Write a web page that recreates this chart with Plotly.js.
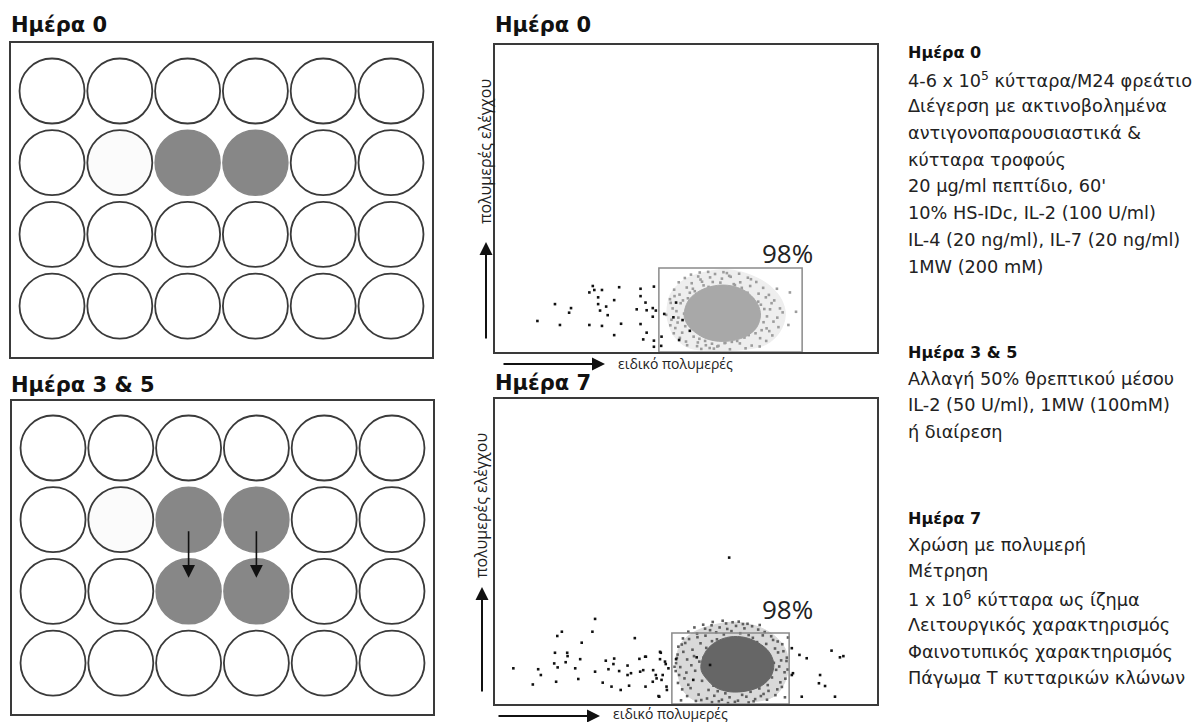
<!DOCTYPE html>
<html><head><meta charset="utf-8">
<script src="https://cdn.plot.ly/plotly-3.0.1.min.js"></script>
<style>html,body{margin:0;padding:0;background:#fff}#chart{width:1200px;height:722px}</style>
</head><body><div id="chart"></div>
<script>
const W = 1200, H = 722;

// ---- Well plates (24-well, 4 rows x 6 columns) ----
const plateRows = [1, 2, 3, 4];
const plateCols = [1, 2, 3, 4, 5, 6];
const day0Seeded = [[2, 3], [2, 4]];
const day0Faint = [[2, 2]];
const day35Seeded = [[2, 3], [2, 4], [3, 3], [3, 4]];
const day35Faint = [[2, 2]];
const splitFrom = [[2, 3], [2, 4]];
const splitTo = [[3, 3], [3, 4]];
const plateTitles = ['Ημέρα 0', 'Ημέρα 3 & 5'];

// ---- Flow cytometry (x: ειδικό πολυμερές, y: πολυμερές ελέγχου), axis units 0-100 ----
const flowTitles = ['Ημέρα 0', 'Ημέρα 7'];
const xLabel = 'ειδικό πολυμερές';
const yLabel = 'πολυμερές ελέγχου';
const gatePct = ['98%', '98%'];
const day0Gate = [42.9, 80.4, 27.4];
const day7Gate = [46.3, 77.0, 23.3];
const day0Halo = [[45,13],[46,19],[49.5,23.5],[55,26],[61,26.8],[67,25],[72,21.5],[75,17],[76,12],[74.5,6.5],[71,2.5],[65,0.8],[57,0.5],[50.5,1.5],[47,5],[45.5,9],[45,13]];
const day0Core = [[49.5,12],[50.5,16.5],[53,19.5],[56.5,21.3],[60,21.8],[63.5,21],[66.5,19],[68.8,15.5],[69.5,12],[68.5,8],[66,5.3],[62.5,3.8],[58.5,3.5],[55,4.5],[52,6.8],[50.2,9.3],[49.5,12]];
const day7Halo = [[47.5,14],[48.5,19.5],[52,23.5],[57.5,26],[63,26.8],[68.5,25.5],[73,22.5],[76,18],[76.8,12.5],[75.8,7],[73,2.5],[67,0.6],[60,0.4],[53,0.8],[49.5,4],[48,9],[47.5,14]];
const day7Core = [[54,13.5],[55.3,17.5],[58,20.5],[61.5,22],[65.5,21.8],[69,20],[71.8,17],[73,13],[72.2,9],[69.8,6],[66,4.3],[61.5,4],[57.8,5.4],[55.2,8.5],[54,11],[54,13.5]];
const day0Speckles = [[46.5,14.2],[47.8,9.6],[48.3,18.7],[49.0,6.3],[49.5,12.5],[50.2,21.0],[50.0,3.4],[49.2,16.8],[48.0,11.2],[47.2,7.8],[51.5,22.4],[52.3,19.8],[53.1,3.1],[53.8,23.6],[54.6,21.7],[55.2,2.2],[56.3,24.3],[57.0,22.8],[58.2,1.8],[59.4,23.9],[60.1,2.9],[61.3,24.8],[62.5,22.1],[63.4,3.6],[64.6,20.9],[65.3,4.7],[66.1,19.3],[67.5,17.2],[68.2,6.1],[68.9,12.8],[69.6,15.4],[70.3,9.7],[71.2,11.6],[66.8,21.5],[67.9,8.3],[69.0,19.0],[70.5,14.0],[52.0,5.0],[53.5,4.3],[55.0,3.6],[56.8,2.7],[58.5,2.0],[60.3,3.0],[62.0,3.3],[63.8,5.2],[65.0,6.7],[50.5,17.5],[51.8,20.6],[54.2,22.9],[57.6,25.4],[61.7,24.5],[64.2,22.7],[66.4,5.5],[68.5,10.8],[49.8,8.4],[48.6,15.9],[47.5,13.3],[46.2,10.5],[52.7,18.1],[55.9,21.2],[59.0,22.6],[62.8,21.8],[65.8,18.4],[69.8,7.1],[58.0,5.8],[60.9,4.1],[63.1,6.4],[56.2,1.3],[54.0,1.0],[50.9,13.7],[68.9,16.4],[72.4,15.9],[74.6,14.2],[77.2,19.4],[76.8,8.8],[78.8,13.1],[72.9,9.9],[69.4,4.5],[64.1,2.8],[71.1,7.7],
  [45.8,17.2],[46.9,20.3],[48.1,22.7],[49.7,24.1],[51.3,25.2],[53.6,25.9],[55.8,26.1],[59.8,26.0],[63.9,25.5],[66.2,24.2],[68.4,22.8],[70.2,20.9],[71.7,18.6],[73.1,16.8],[73.9,11.2],[74.2,8.1],[72.6,5.4],[71.0,3.6],[67.2,2.1],[65.6,1.2],[61.5,0.9],[57.3,1.1],[52.9,1.9],[50.3,2.2],[48.4,4.6],[46.8,6.1],[45.9,8.7],[51.0,19.3],[70.9,17.8],[72.0,13.9],[47.0,18.2],[46.0,16.0],[71.8,6.8],[53.2,24.6],[60.7,25.7],[67.0,23.7],[44.8,12.1],[75.3,12.9],[73.8,20.6],[69.3,1.8]];
const day7Speckles = [[47.8,16.2],[48.5,12.1],[48.9,19.5],[49.6,8.4],[50.3,14.6],[50.8,21.3],[51.2,5.2],[51.7,17.8],[52.4,10.9],[52.9,23.1],[53.3,3.1],[53.8,19.9],[54.2,7.6],[54.6,15.2],[55.1,22.4],[55.5,1.8],[55.9,4.6],[56.3,24.2],[56.8,20.6],[57.4,2.7],[57.9,23.5],[58.3,4.2],[58.8,25.1],[59.4,1.4],[59.9,22.8],[60.3,3.5],[60.8,24.6],[61.4,2.2],[61.9,23.9],[62.5,4.4],[63.1,25.6],[63.6,1.1],[64.2,23.2],[64.7,3.0],[65.3,24.8],[65.8,2.4],[66.4,22.6],[66.9,4.0],[67.5,21.7],[68.1,1.6],[68.6,20.3],[69.2,5.1],[69.7,18.9],[70.3,3.3],[70.8,17.4],[71.4,6.2],[71.9,15.8],[72.5,8.7],[73.0,13.5],[73.6,11.2],[74.1,16.9],[74.7,7.1],[75.2,19.6],[75.8,10.4],[76.3,14.1],[72.8,21.0],[73.9,4.8],[70.1,22.5],[54.9,11.8],[53.5,13.9],[52.1,15.7],[51.4,12.7],[50.1,10.3],[49.3,17.1],[48.2,9.5],[47.4,13.4],[56.1,8.2],[55.3,18.4],[57.2,6.0],[58.1,21.2],[72.2,10.0],[73.3,18.2],[74.4,12.3],[71.6,4.3],[69.6,2.6],[67.7,0.9],[62.8,0.7],[58.6,0.9],[54.0,1.3],[64.9,26.2],[60.5,26.4],[56.7,25.8],[67.3,25.5],[62.2,26.8],
  [48.0,18.8],[49.2,21.5],[50.6,23.7],[52.2,25.1],[54.5,26.0],[57.0,26.9],[59.6,27.3],[63.8,27.0],[66.1,26.3],[68.9,24.4],[70.6,23.6],[72.3,22.2],[74.0,20.5],[75.5,17.3],[76.4,15.2],[76.6,11.3],[76.0,8.3],[75.1,5.6],[73.4,2.9],[71.2,1.4],[66.4,0.5],[61.0,0.3],[56.8,0.6],[52.6,1.0],[50.3,2.6],[49.0,4.8],[47.9,6.9],[47.3,10.8],[47.0,12.2],[47.6,15.1],[48.7,1.2],[75.9,2.2],[76.7,21.8],[55.0,24.7],[69.3,25.9],[71.0,19.7],[49.8,20.0],[53.0,21.9],[74.9,14.3],[50.6,6.3]];
const day0Outliers = [[11.1,10.1],[15.7,15.6],[17.0,8.8],[19.4,12.8],[19.9,14.3],[24.7,19.4],[25.6,21.5],[26.0,20.2],[28.0,20.2],[27.0,17.8],[27.0,15.6],[27.5,13.5],[29.1,14.8],[29.5,12.0],[24.7,8.8],[28.0,8.5],[31.2,16.9],[32.5,21.1],[31.2,5.5],[33.0,9.2],[37.1,13.9],[38.1,20.6],[38.1,18.2],[38.1,9.1],[39.4,16.1],[39.7,13.6],[39.7,6.3],[38.8,4.1],[41.3,14.3],[41.6,21.3],[41.6,3.7],[41.6,1.7],[41.3,11.5],[42.1,13.5],[43.6,5.0],[43.5,2.0],[44.3,12.4],[47.4,16.1],[49.1,10.4],[51.0,6.9],[48.2,3.9],[46.7,11.3]];
const day7Outliers = [[4.8,11.7],[9.9,6.4],[11.3,11.4],[12.0,9.5],[16.0,7.3],[15.7,16.8],[16.3,22.3],[17.5,23.7],[15.5,13.3],[16.4,12.0],[18.9,16.8],[19.0,15.7],[18.5,13.7],[21.0,11.7],[21.8,8.2],[22.3,14.7],[22.7,20.1],[25.5,23.7],[26.2,27.9],[26.2,10.6],[28.2,7.0],[29.0,14.2],[29.7,11.4],[30.5,5.7],[31.2,14.9],[31.0,13.1],[32.5,10.8],[32.9,4.6],[34.7,12.6],[34.7,9.5],[35.1,6.0],[35.6,10.1],[36.6,21.6],[37.8,14.8],[38.0,10.6],[38.8,11.1],[39.3,15.5],[39.4,5.7],[41.3,7.3],[42.1,9.5],[42.3,8.4],[43.0,2.4],[43.2,14.7],[43.4,16.8],[43.9,9.5],[44.7,13.1],[44.9,5.7],[45.4,11.7],[39.5,15.5],[43.2,17.1],[44.5,13.9],[41.4,11.1],[43.6,7.9],[42.8,2.6],[45.0,4.6],[47.4,14.7],[51.9,7.9],[56.3,12.8],[52.8,15.3],[77.7,18.3],[79.7,16.1],[81.6,15.0],[77.7,9.5],[78.0,10.1],[85.1,9.5],[88.1,17.5],[90.3,15.3],[91.2,15.7],[86.4,5.9],[89.0,2.4],[80.3,2.4],[84.8,6.8],[61.3,48.0]];

// ---- Protocol notes ----
const notesHeads = ['Ημέρα 0', 'Ημέρα 3 & 5', 'Ημέρα 7'];
const notesDay0 = ['4-6 x 10<sup>5</sup> κύτταρα/M24 φρεάτιο', 'Διέγερση με ακτινοβολημένα', 'αντιγονοπαρουσιαστικά &', 'κύτταρα τροφούς', "20 μg/ml πεπτίδιο, 60'", '10% HS-IDc, IL-2 (100 U/ml)', 'IL-4 (20 ng/ml), IL-7 (20 ng/ml)', '1MW (200 mM)'];
const notesDay35 = ['Αλλαγή 50% θρεπτικού μέσου', 'IL-2 (50 U/ml), 1MW (100mM)', 'ή διαίρεση'];
const notesDay7 = ['Χρώση με πολυμερή', 'Μέτρηση', '1 x 10<sup>6</sup> κύτταρα ως ίζημα', 'Λειτουργικός χαρακτηρισμός', 'Φαινοτυπικός χαρακτηρισμός', 'Πάγωμα Τ κυτταρικών κλώνων'];

// ---------------- build ----------------
const has = (list, r, c) => list.some(p => p[0] === r && p[1] === c);
const traces = [];
function plateTraces(seeded, faint, xa, ya) {
  const ex = [], ey = [], ecol = [];
  const sx = [], sy = [];
  plateRows.forEach(r => plateCols.forEach(c => {
    if (has(seeded, r, c)) { sx.push(c); sy.push(r); }
    else { ex.push(c); ey.push(r); ecol.push(has(faint, r, c) ? '#fbfbfb' : '#ffffff'); }
  }));
  traces.push({type: 'scatter', mode: 'markers', x: ex, y: ey, xaxis: xa, yaxis: ya, hoverinfo: 'skip',
    marker: {symbol: 'circle', size: 65, color: ecol, line: {color: '#3a3a3a', width: 1.8}}});
  traces.push({type: 'scatter', mode: 'markers', x: sx, y: sy, xaxis: xa, yaxis: ya, hoverinfo: 'skip',
    marker: {symbol: 'circle', size: 65, color: '#878787', line: {color: '#878787', width: 1.5}}});
}
plateTraces(day0Seeded, day0Faint, 'x', 'y');
plateTraces(day35Seeded, day35Faint, 'x2', 'y2');

function poly(pts, color, xa, ya) {
  traces.push({type: 'scatter', mode: 'lines', x: pts.map(p => p[0]), y: pts.map(p => p[1]), xaxis: xa, yaxis: ya,
    fill: 'toself', fillcolor: color, line: {color: color, width: 1, shape: 'spline'}, hoverinfo: 'skip'});
}
function dots(pts, color, xa, ya) {
  traces.push({type: 'scatter', mode: 'markers', x: pts.map(p => p[0]), y: pts.map(p => p[1]), xaxis: xa, yaxis: ya,
    marker: {symbol: 'square', size: 2.6, color: color}, hoverinfo: 'skip'});
}
poly(day0Halo, '#eeeeee', 'x3', 'y3');
dots(day0Speckles, '#9c9c9c', 'x3', 'y3');
poly(day0Core, '#a8a8a8', 'x3', 'y3');
dots(day0Outliers, '#111', 'x3', 'y3');
poly(day7Halo, '#d9d9d9', 'x4', 'y4');
dots(day7Speckles, '#5e5e5e', 'x4', 'y4');
poly(day7Core, '#666666', 'x4', 'y4');
dots(day7Outliers, '#111', 'x4', 'y4');

const ax = {showgrid: false, zeroline: false, showticklabels: false, ticks: '', showline: true, mirror: true,
  linecolor: '#3a3a3a', linewidth: 2, fixedrange: true};
const px = v => v / W, py = v => 1 - v / H;

const annotations = [];
const TITLE_FONT = {family: 'DejaVu Sans, Verdana, sans-serif', size: 21, color: '#111'};
function text(t, x, y, font, extra) {
  annotations.push(Object.assign({text: t, xref: 'paper', yref: 'paper', x: px(x), y: py(y), xanchor: 'left', yanchor: 'middle',
    showarrow: false, font: font}, extra || {}));
}
text('<b>' + plateTitles[0] + '</b>', 9, 25, TITLE_FONT);
text('<b>' + plateTitles[1] + '</b>', 9, 385, TITLE_FONT);
text('<b>' + flowTitles[0] + '</b>', 493, 25, TITLE_FONT);
text('<b>' + flowTitles[1] + '</b>', 493, 383, TITLE_FONT);

// split arrows (well to well)
splitFrom.forEach((f, i) => {
  const t = splitTo[i];
  annotations.push({xref: 'x2', yref: 'y2', axref: 'x2', ayref: 'y2', x: t[1], y: t[0] - 0.19, ax: f[1], ay: f[0] + 0.14,
    text: '', showarrow: true, arrowhead: 2, arrowsize: 1.6, arrowwidth: 1.6, arrowcolor: '#111'});
});

// axis direction arrows & labels for flow plots
const LAB_FONT = {family: 'Open Sans, sans-serif', size: 14, color: '#222'};
const YLAB_FONT = {family: 'Open Sans, sans-serif', size: 16, color: '#222'};
function axisArrows(yTip, yTail, xArrowY, xArrowX0, xArrowX1, yArrowX, yLabY, xLabY) {
  annotations.push({xref: 'paper', yref: 'paper', x: px(yArrowX), y: py(yTip), ax: 0, ay: yTail - yTip, text: '',
    showarrow: true, arrowhead: 2, arrowsize: 1.3, arrowwidth: 2, arrowcolor: '#111'});
  annotations.push({xref: 'paper', yref: 'paper', x: px(xArrowX1), y: py(xArrowY), ax: xArrowX0 - xArrowX1, ay: 0, text: '',
    showarrow: true, arrowhead: 2, arrowsize: 1.3, arrowwidth: 2, arrowcolor: '#111'});
  annotations.push({xref: 'paper', yref: 'paper', x: px(xArrowX1 + 11), y: py(xLabY), xanchor: 'left', yanchor: 'middle',
    text: xLabel, showarrow: false, font: LAB_FONT});
  annotations.push({xref: 'paper', yref: 'paper', x: px(yArrowX - 1), y: py(yLabY), xanchor: 'center', yanchor: 'middle',
    text: yLabel, textangle: -90, showarrow: false, font: YLAB_FONT});
}
axisArrows(242, 340, 364, 502, 605, 486, 152, 364);
axisArrows(587, 693, 716, 497, 600, 482, 506, 713);

// gate percentages
annotations.push({xref: 'x3', yref: 'y3', x: 76.7, y: 32.2, text: gatePct[0], showarrow: false,
  font: {family: 'Open Sans, sans-serif', size: 26, color: '#222'}});
annotations.push({xref: 'x4', yref: 'y4', x: 76.7, y: 31.1, text: gatePct[1], showarrow: false,
  font: {family: 'Open Sans, sans-serif', size: 26, color: '#222'}});

// notes
const NOTE_FONT = {family: 'DejaVu Sans, Verdana, sans-serif', size: 17.7, color: '#222'};
const HEAD_FONT = {family: 'DejaVu Sans, Verdana, sans-serif', size: 16, color: '#111'};
const LS = 26.7;
function block(head, lines, y0) {
  text('<b>' + head + '</b>', 906, y0, HEAD_FONT);
  lines.forEach((l, i) => text(l, 906, y0 + LS * (i + 1), NOTE_FONT));
}
block(notesHeads[0], notesDay0, 53);
block(notesHeads[1], notesDay35, 352);
block(notesHeads[2], notesDay7, 518);

const shapes = [
  {type: 'rect', xref: 'x3', yref: 'y3', x0: day0Gate[0], x1: day0Gate[1], y0: 0, y1: day0Gate[2], line: {color: '#8a8a8a', width: 1.5}},
  {type: 'rect', xref: 'x4', yref: 'y4', x0: day7Gate[0], x1: day7Gate[1], y0: 0, y1: day7Gate[2], line: {color: '#8a8a8a', width: 1.5}}
];

const layout = {
  width: W, height: H, margin: {l: 0, r: 0, t: 0, b: 0}, paper_bgcolor: '#fff', plot_bgcolor: 'rgba(0,0,0,0)',
  showlegend: false,
  xaxis: Object.assign({}, ax, {domain: [px(11), px(432)], range: [0.395, 6.605], anchor: 'y'}),
  yaxis: Object.assign({}, ax, {domain: [py(357), py(43)], range: [4.711, 0.33], anchor: 'x'}),
  xaxis2: Object.assign({}, ax, {domain: [px(12), px(433)], range: [0.395, 6.605], anchor: 'y2'}),
  yaxis2: Object.assign({}, ax, {domain: [py(714), py(401)], range: [4.711, 0.344], anchor: 'x2'}),
  xaxis3: Object.assign({}, ax, {domain: [px(495), px(877)], range: [0, 100], anchor: 'y3'}),
  yaxis3: Object.assign({}, ax, {domain: [py(352), py(45)], range: [0, 100], anchor: 'x3'}),
  xaxis4: Object.assign({}, ax, {domain: [px(495), px(877)], range: [0, 100], anchor: 'y4'}),
  yaxis4: Object.assign({}, ax, {domain: [py(704), py(399)], range: [0, 100], anchor: 'x4'}),
  annotations: annotations, shapes: shapes
};
Plotly.newPlot('chart', traces, layout, {staticPlot: true, displayModeBar: false});
</script></body></html>
